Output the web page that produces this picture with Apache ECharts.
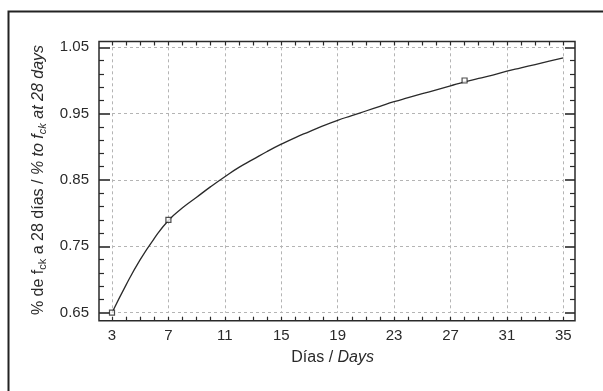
<!DOCTYPE html>
<html>
<head>
<meta charset="utf-8">
<script src="https://cdn.jsdelivr.net/npm/echarts@6/dist/echarts.min.js"></script>
<style>
  html, body {margin: 0; padding: 0; background: #fff;}
  #main {width: 603px; height: 391px;}
</style>
</head>
<body>
<div id="main"></div>
<script>
// curve
const days = [3, 4, 5, 6, 7, 8, 9, 10, 11, 12, 13, 14, 15, 16, 17, 18, 19,
  20, 21, 22, 23, 24, 25, 26, 27, 28, 29, 30, 31, 32, 33, 34, 35];
const ratio = [0.650, 0.692, 0.730, 0.762, 0.789, 0.808, 0.824, 0.840, 0.855,
  0.869, 0.881, 0.893, 0.904, 0.914, 0.923, 0.932, 0.940, 0.947, 0.954, 0.961,
  0.968, 0.974, 0.980, 0.986, 0.992, 0.998, 1.003, 1.008, 1.014, 1.019, 1.024,
  1.029, 1.034];
// measured points
const testDays = [3, 7, 28];
const testRatio = [0.65, 0.79, 1.0];
const xTicks = {min: 3, max: 35, step: 4};
const yTicks = {min: 0.65, max: 1.05, step: 0.1};

const font = '"Liberation Sans", Arial, sans-serif';
const ink = '#2a2a2a';
const gridDash = {color: '#b4b4b4', width: 1, type: [3, 3]};

const chart = echarts.init(document.getElementById('main'));

const baseX = {
  type: 'value', gridIndex: 0,
  min: xTicks.min, max: xTicks.max, interval: xTicks.step,
  axisLine: {show: false},
  axisTick: {inside: true, length: 4, lineStyle: {color: ink, width: 1.2}},
  minorTick: {show: true, splitNumber: 4, length: 4, lineStyle: {color: ink, width: 1.2}},
};
const baseY = {
  type: 'value', gridIndex: 0,
  min: yTicks.min, max: yTicks.max, interval: yTicks.step,
  axisLine: {show: false},
  axisTick: {inside: true, length: 11, lineStyle: {color: ink, width: 1.6}},
  minorTick: {show: true, splitNumber: 5, length: 5, lineStyle: {color: ink, width: 1.2}},
};

chart.setOption({
  animation: false,
  textStyle: {fontFamily: font},
  graphic: [{
    type: 'rect', left: 6, top: 9, silent: true,
    shape: {width: 700, height: 500},
    style: {fill: 'none', stroke: '#222', lineWidth: 2}
  }],
  grid: [
    {left: 112, right: 39.7, top: 47.3, bottom: 78.3},
    {left: 99, right: 28, top: 41.5, bottom: 70.3, show: true,
      borderColor: ink, borderWidth: 1.5, backgroundColor: 'transparent', z: 3}
  ],
  xAxis: [
    Object.assign({}, baseX, {
      position: 'bottom', offset: 8,
      splitLine: {show: true, lineStyle: gridDash},
      axisLabel: {color: ink, fontSize: 15, margin: 8},
      name: 'Días / {i|Days}', nameLocation: 'middle', nameGap: 29,
      nameTextStyle: {color: ink, fontSize: 16, padding: [0, 10, 0, 0],
        rich: {i: {fontStyle: 'italic', fontSize: 16, color: ink}}}
    }),
    Object.assign({}, baseX, {
      position: 'top', offset: 5.8,
      splitLine: {show: false}, axisLabel: {show: false}
    }),
    {type: 'value', gridIndex: 1, show: false, min: 0, max: 1}
  ],
  yAxis: [
    Object.assign({}, baseY, {
      position: 'left', offset: 13,
      splitLine: {show: true, lineStyle: gridDash},
      axisLabel: {color: ink, fontSize: 15, margin: 10, formatter: v => v.toFixed(2)},
      name: '% de f{s|ck} a 28 días / {i|% to }{i|f}{is|ck}{i| at 28 days}',
      nameLocation: 'middle', nameGap: 50, nameRotate: 90,
      nameTextStyle: {color: ink, fontSize: 16, lineHeight: 20,
        rich: {
          s: {fontSize: 11, lineHeight: 12, verticalAlign: 'bottom', color: ink},
          i: {fontStyle: 'italic', fontSize: 16, lineHeight: 20, color: ink},
          is: {fontStyle: 'italic', fontSize: 11, lineHeight: 12, verticalAlign: 'bottom', color: ink}
        }}
    }),
    Object.assign({}, baseY, {
      position: 'right', offset: 11.7,
      splitLine: {show: false}, axisLabel: {show: false},
      axisTick: {inside: true, length: 10, lineStyle: {color: ink, width: 1.6}}
    }),
    {type: 'value', gridIndex: 1, show: false, min: 0, max: 1}
  ],
  series: [
    {
      type: 'line', xAxisIndex: 0, yAxisIndex: 0,
      data: days.map((d, i) => [d, ratio[i]]),
      smooth: true, showSymbol: false,
      lineStyle: {color: ink, width: 1.3}, z: 4
    },
    {
      type: 'scatter', xAxisIndex: 0, yAxisIndex: 0,
      data: testDays.map((d, i) => [d, testRatio[i]]),
      symbol: 'rect', symbolSize: 5,
      itemStyle: {color: '#fff', borderColor: '#222', borderWidth: 1.2}, z: 5
    }
  ]
});
</script>
</body>
</html>
